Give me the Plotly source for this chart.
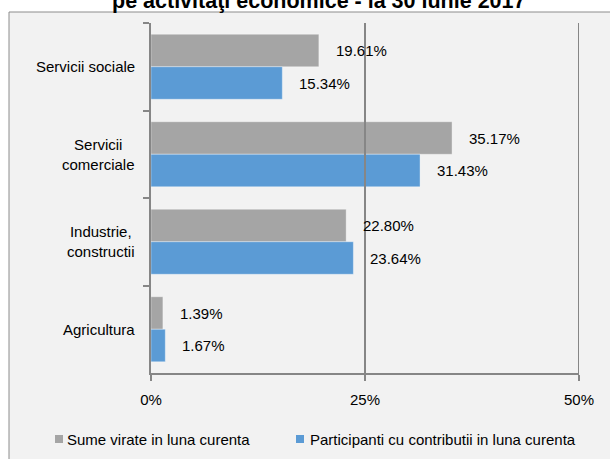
import plotly.graph_objects as go

# ---- data ----
categories = ["Servicii sociale", "Servicii comerciale", "Industrie, constructii", "Agricultura"]
category_labels = ["Servicii sociale", "Servicii<br>comerciale", "Industrie,<br>constructii", "Agricultura"]
series_names = ["Sume virate in luna curenta", "Participanti cu contributii in luna curenta"]
sume_virate = [19.61, 35.17, 22.80, 1.39]
participanti = [15.34, 31.43, 23.64, 1.67]
x_tickvals = [0, 25, 50]
x_ticktext = ["0%", "25%", "50%"]
title_text = "pe activităţi economice - la 30 iunie 2017"

colors = ["#A5A5A5", "#5B9BD5"]
series_values = [sume_virate, participanti]

W, H = 610, 459
L, R, T, B = 151, 31, 23, 86
PW, PH = W - L - R, H - T - B


def px(x):
    return (x - L) / PW


def py(y):
    return (H - B - y) / PH


FONT = "Liberation Sans, Arial, sans-serif"
AXC = "#868686"

fig = go.Figure()
for name, vals, col in zip(series_names, series_values, colors):
    fig.add_trace(go.Bar(
        y=categories, x=vals, name=name, orientation="h",
        marker=dict(color=col, line=dict(color="rgba(255,255,255,0.35)", width=1)),
        showlegend=False, hoverinfo="skip",
    ))

bargap = 0.257
bw = (1 - bargap) / 2
offsets = [-bw / 2, bw / 2]

annotations = []
# data labels
for k, vals in enumerate(series_values):
    for i, v in enumerate(vals):
        annotations.append(dict(
            x=v, y=i + offsets[k], xref="x", yref="y",
            text=f"{v:.2f}%", showarrow=False, xanchor="left", yanchor="middle",
            xshift=15, font=dict(family=FONT, size=15, color="#000000"),
        ))
# category labels
for i, lab in enumerate(category_labels):
    annotations.append(dict(
        x=0, y=i, xref="paper", yref="y", text=lab, showarrow=False,
        xanchor="right", yanchor="middle", align="center", xshift=-14,
        font=dict(family=FONT, size=15, color="#000000"),
    ))
# custom legend
leg_sq_x = [55, 296]
leg_text_x = [65, 308]
leg_y = 439
shapes = []
for k, name in enumerate(series_names):
    annotations.append(dict(
        x=px(leg_text_x[k]), y=py(leg_y), xref="paper", yref="paper", text=name,
        showarrow=False, xanchor="left", yanchor="middle",
        font=dict(family=FONT, size=15, color="#000000"),
    ))
    shapes.append(dict(
        type="rect", xref="paper", yref="paper",
        x0=px(leg_sq_x[k]), x1=px(leg_sq_x[k] + 8),
        y0=py(leg_y + 4), y1=py(leg_y - 4),
        fillcolor=colors[k], line=dict(width=0), layer="above",
    ))

# white outer strips and border
shapes.insert(0, dict(type="rect", xref="paper", yref="paper",
                      x0=px(-20), x1=px(W + 20), y0=py(12), y1=py(-20),
                      fillcolor="#FFFFFF", line=dict(width=0), layer="below"))
shapes.insert(1, dict(type="rect", xref="paper", yref="paper",
                      x0=px(-20), x1=px(9), y0=py(H + 20), y1=py(-20),
                      fillcolor="#FFFFFF", line=dict(width=0), layer="below"))
shapes.insert(2, dict(type="rect", xref="paper", yref="paper",
                      x0=px(9), x1=px(W + 10), y0=py(H + 10), y1=py(12),
                      fillcolor="rgba(0,0,0,0)", line=dict(color="#8C8C8C", width=1), layer="below"))
# gridlines (drawn over bars)
for tv in x_tickvals[1:]:
    shapes.append(dict(type="line", xref="x", yref="paper", x0=tv, x1=tv, y0=0, y1=1,
                       line=dict(color=AXC, width=2), layer="above"))

# title (cut at top edge, as in the reference)
annotations.append(dict(
    x=px(318), y=py(14.5), xref="paper", yref="paper", text="<b>" + title_text + "</b>",
    showarrow=False, xanchor="center", yanchor="bottom",
    font=dict(family=FONT, size=21.5, color="#000000"),
))

fig.update_layout(
    width=W, height=H, autosize=False,
    margin=dict(l=L, r=R, t=T, b=B, pad=0),
    paper_bgcolor="#F2F2F2", plot_bgcolor="#F2F2F2",
    barmode="group", bargap=bargap, bargroupgap=0,
    showlegend=False,
    xaxis=dict(range=[0, 50], tickvals=x_tickvals, ticktext=x_ticktext,
               showline=True, linecolor=AXC, linewidth=2,
               ticks="outside", ticklen=6, tickcolor=AXC, tickwidth=2,
               showgrid=False, zeroline=False, ticklabelstandoff=6,
               tickfont=dict(family=FONT, size=15, color="#000000")),
    yaxis=dict(categoryorder="array", categoryarray=categories,
               range=[3.5, -0.5], showline=True, linecolor=AXC, linewidth=2,
               ticks="outside", tickson="boundaries", ticklen=6, tickcolor=AXC, tickwidth=2,
               showticklabels=False, showgrid=False, zeroline=False),
    annotations=annotations, shapes=shapes,
)

fig.write_html("out.html", config={"displayModeBar": False},
               post_script="document.body.style.margin='0';document.body.style.overflow='hidden';")
